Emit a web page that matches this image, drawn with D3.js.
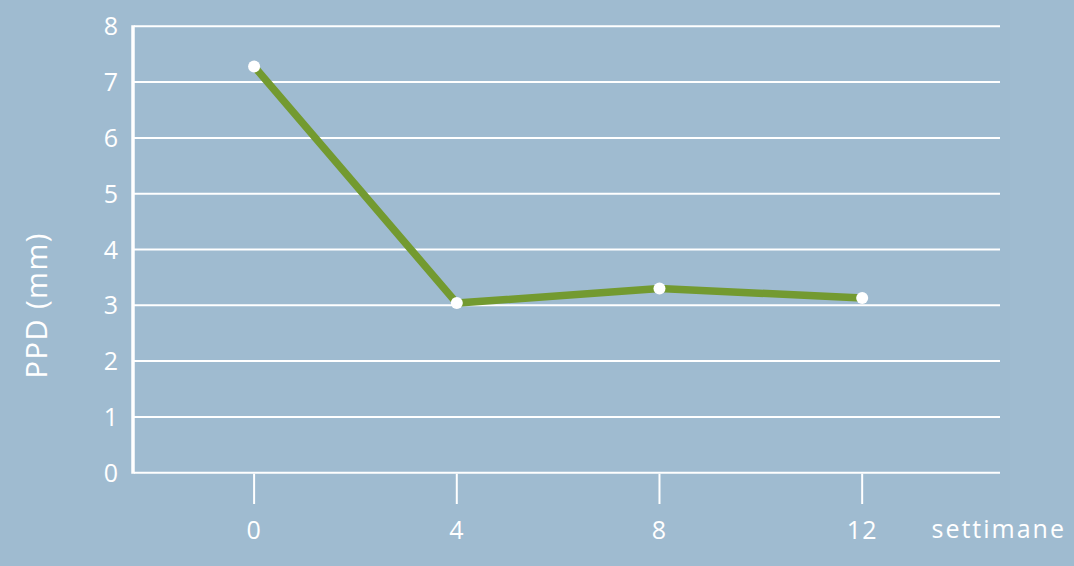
<!DOCTYPE html>
<html>
<head>
<meta charset="utf-8">
<script src="https://cdnjs.cloudflare.com/ajax/libs/d3/7.8.5/d3.min.js"></script>
<style>
  html, body { margin: 0; padding: 0; background: #9fbbd0; }
  svg { display: block; }
  text { font-family: "Open Sans", Lato, sans-serif; fill: #fff; }
</style>
</head>
<body>
<div id="chart"></div>
<script>
// données
const weeks   = [0, 4, 8, 12];
const ppd     = [7.28, 3.04, 3.30, 3.13];
const yTicks  = [0, 1, 2, 3, 4, 5, 6, 7, 8];

const W = 1074, H = 566;
const svg = d3.select('#chart').append('svg')
  .attr('width', W).attr('height', H);

svg.append('rect').attr('width', W).attr('height', H).attr('fill', '#9fbbd0');

const x = d3.scaleLinear().domain([-2.39, 14.72]).range([133, 1000]);
const y = d3.scaleLinear().domain([0, 8]).range([472.7, 26.3]);

// grille
svg.append('g').selectAll('line')
  .data(yTicks)
  .enter().append('line')
  .attr('x1', 134).attr('x2', 1000)
  .attr('y1', d => y(d)).attr('y2', d => y(d))
  .attr('stroke', '#fff').attr('stroke-width', 2);

// axe Y
svg.append('line')
  .attr('x1', 133).attr('x2', 133)
  .attr('y1', y(8) - 1).attr('y2', y(0) + 1)
  .attr('stroke', '#fff').attr('stroke-width', 3.5);

svg.append('g').selectAll('text')
  .data(yTicks)
  .enter().append('text')
  .attr('x', 118).attr('y', d => y(d) + 9)
  .attr('text-anchor', 'end')
  .attr('font-size', 25)
  .text(d => d);

// ticks X
svg.append('g').selectAll('line')
  .data(weeks)
  .enter().append('line')
  .attr('x1', d => x(d)).attr('x2', d => x(d))
  .attr('y1', y(0) + 1).attr('y2', 504)
  .attr('stroke', '#fff').attr('stroke-width', 2);

svg.append('g').selectAll('text')
  .data(weeks)
  .enter().append('text')
  .attr('x', d => x(d)).attr('y', 539)
  .attr('text-anchor', 'middle')
  .attr('font-size', 25)
  .attr('letter-spacing', 1)
  .text(d => d);

svg.append('text')
  .attr('x', 1066).attr('y', 538)
  .attr('text-anchor', 'end')
  .attr('font-size', 25)
  .attr('letter-spacing', 2)
  .text('settimane');

svg.append('text')
  .attr('transform', `translate(47, ${y(3) + 0}) rotate(-90)`)
  .attr('text-anchor', 'middle')
  .attr('font-size', 29)
  .attr('letter-spacing', 1.5)
  .text('PPD (mm)');

// série
const pts = weeks.map((w, i) => [w, ppd[i]]);
svg.append('path')
  .datum(pts)
  .attr('d', d3.line().x(d => x(d[0])).y(d => y(d[1])))
  .attr('fill', 'none')
  .attr('stroke', '#739a30')
  .attr('stroke-width', 7.5);

svg.append('g').selectAll('circle')
  .data(pts)
  .enter().append('circle')
  .attr('cx', d => x(d[0])).attr('cy', d => y(d[1]))
  .attr('r', 6)
  .attr('fill', '#fff');
</script>
</body>
</html>
